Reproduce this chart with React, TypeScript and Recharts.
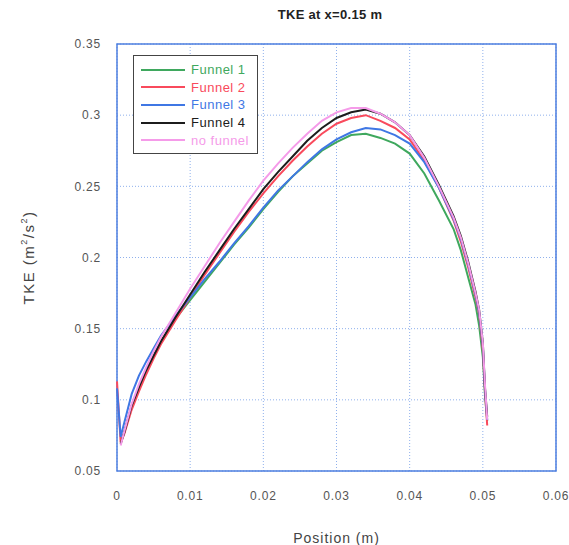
import React from 'react';
import { LineChart, Line, XAxis, YAxis, CartesianGrid, ReferenceArea, Legend } from 'recharts';

const positions = [0, 0.0005, 0.001, 0.002, 0.003, 0.004, 0.005, 0.006, 0.008, 0.01, 0.012, 0.014, 0.016, 0.018, 0.02, 0.022, 0.024, 0.026, 0.028, 0.03, 0.032, 0.034, 0.036, 0.038, 0.04, 0.042, 0.044, 0.046, 0.047, 0.048, 0.049, 0.0495, 0.05, 0.0503, 0.0506];

const funnel1 = [null, 0.070, 0.078, 0.095, 0.108, 0.120, 0.131, 0.141, 0.157, 0.170, 0.183, 0.196, 0.209, 0.221, 0.234, 0.246, 0.257, 0.266, 0.275, 0.281, 0.286, 0.287, 0.284, 0.280, 0.273, 0.259, 0.240, 0.220, 0.205, 0.186, 0.167, 0.152, 0.130, 0.103, 0.085];
const funnel2 = [0.113, 0.070, 0.076, 0.093, 0.106, 0.118, 0.129, 0.139, 0.156, 0.172, 0.188, 0.203, 0.218, 0.232, 0.245, 0.257, 0.268, 0.278, 0.287, 0.294, 0.298, 0.300, 0.296, 0.291, 0.283, 0.268, 0.249, 0.226, 0.211, 0.193, 0.172, 0.160, 0.135, 0.105, 0.082];
const funnel3 = [0.108, 0.074, 0.084, 0.104, 0.117, 0.127, 0.136, 0.145, 0.159, 0.172, 0.185, 0.197, 0.210, 0.222, 0.235, 0.247, 0.257, 0.267, 0.276, 0.283, 0.288, 0.291, 0.290, 0.286, 0.280, 0.267, 0.249, 0.227, 0.213, 0.195, 0.174, 0.161, 0.138, 0.107, 0.086];
const funnel4 = [null, 0.069, 0.077, 0.096, 0.109, 0.121, 0.131, 0.141, 0.158, 0.174, 0.190, 0.205, 0.220, 0.234, 0.248, 0.260, 0.271, 0.282, 0.291, 0.298, 0.302, 0.304, 0.301, 0.295, 0.286, 0.271, 0.251, 0.229, 0.215, 0.197, 0.176, 0.163, 0.140, 0.108, 0.088];
const noFunnel = [null, 0.068, 0.078, 0.097, 0.111, 0.123, 0.134, 0.144, 0.161, 0.178, 0.194, 0.210, 0.225, 0.240, 0.254, 0.266, 0.277, 0.287, 0.296, 0.302, 0.305, 0.305, 0.301, 0.295, 0.286, 0.270, 0.250, 0.228, 0.214, 0.196, 0.175, 0.163, 0.140, 0.110, 0.086];

const xTicks = [0, 0.01, 0.02, 0.03, 0.04, 0.05, 0.06];
const yTicks = [0.05, 0.1, 0.15, 0.2, 0.25, 0.3, 0.35];

const seriesNames = ['Funnel 1', 'Funnel 2', 'Funnel 3', 'Funnel 4', 'no funnel'];
const seriesKeys = ['f1', 'f2', 'f3', 'f4', 'nf'];
const seriesColors = ['#3fa85e', '#f94a5c', '#3f77e4', '#1c1c1c', '#f59be9'];
const seriesValues = [funnel1, funnel2, funnel3, funnel4, noFunnel];

const data = positions.map((x, i) => {
  const row: any = { x };
  seriesKeys.forEach((k, j) => {
    row[k] = seriesValues[j][i];
  });
  return row;
});

const fmt = (v: number) => String(+v.toFixed(2));
const FONT = '"Liberation Sans", Arial, sans-serif';

const LegendBox = () => (
  <div
    style={{
      border: '1.5px solid #444',
      background: '#fff',
      padding: '5px 6px 4px 7px',
      width: 110,
      fontFamily: FONT,
      fontSize: 13,
      letterSpacing: 0.5,
    }}
  >
    {seriesNames.map((n, i) => (
      <div key={n} style={{ display: 'flex', alignItems: 'center', height: 17.6 }}>
        <svg width={46} height={6} style={{ marginRight: 4 }}>
          <line x1={0} y1={3} x2={44} y2={3} stroke={seriesColors[i]} strokeWidth={2.2} />
        </svg>
        <span style={{ color: seriesColors[i] }}>{n}</span>
      </div>
    ))}
  </div>
);

const YLabel = (props: any) => {
  const vb = props.viewBox || {};
  const cy = vb.y + vb.height / 2;
  const cx = 30;
  return (
    <text
      x={cx}
      y={cy}
      transform={`rotate(-90, ${cx}, ${cy})`}
      textAnchor="middle"
      dominantBaseline="middle"
      fill="#444"
      fontSize={15}
      fontFamily={FONT}
      letterSpacing={1.5}
    >
      TKE (m
      <tspan dy={-5} fontSize={9}>2</tspan>
      <tspan dy={5}>/s</tspan>
      <tspan dy={-5} fontSize={9}>2</tspan>
      <tspan dy={5}>)</tspan>
    </text>
  );
};

export default function App() {
  return (
    <div style={{ position: 'absolute', left: 0, top: 0, width: 569, height: 545, background: '#fff' }}>
      <div
        style={{
          position: 'absolute',
          left: 230,
          width: 200,
          top: 7,
          textAlign: 'center',
          fontFamily: FONT,
          fontWeight: 'bold',
          fontSize: 13,
          color: '#222',
          letterSpacing: 0.3,
        }}
      >
        TKE at x=0.15 m
      </div>
      <LineChart
        width={569}
        height={545}
        data={data}
        margin={{ top: 44, right: 13, bottom: 0, left: 0 }}
      >
        <CartesianGrid stroke="#8fb0ec" strokeDasharray="1 2" strokeWidth={1} />
        <XAxis
          dataKey="x"
          type="number"
          domain={[0, 0.06]}
          ticks={xTicks}
          tickFormatter={fmt}
          tickLine={false}
          axisLine={false}
          tickMargin={14}
          height={74}
          tick={{ fill: '#555', fontSize: 12, fontFamily: FONT, letterSpacing: 0.8 }}
          label={{
            value: 'Position (m)',
            position: 'insideBottom',
            offset: 2,
            fill: '#444',
            fontSize: 14,
            fontFamily: FONT,
            letterSpacing: 1,
          }}
        />
        <YAxis
          type="number"
          domain={[0.05, 0.35]}
          ticks={yTicks}
          tickFormatter={fmt}
          tickLine={false}
          axisLine={false}
          tickMargin={10}
          width={117}
          tick={{ fill: '#555', fontSize: 12, fontFamily: FONT, letterSpacing: 0.8 }}
          label={<YLabel />}
        />
        <ReferenceArea x1={0} x2={0.06} y1={0.05} y2={0.35} fill="none" stroke="#4d7fe0" strokeWidth={1.5} ifOverflow="visible" />
        {seriesKeys.map((k, i) => (
          <Line
            key={k}
            dataKey={k}
            name={seriesNames[i]}
            stroke={seriesColors[i]}
            strokeWidth={2}
            dot={false}
            type="linear"
            isAnimationActive={false}
          />
        ))}
        <Legend
          content={<LegendBox />}
          layout="vertical"
          verticalAlign="middle"
          align="center"
          wrapperStyle={{ position: 'absolute', left: 133, top: 55, width: 'auto', height: 'auto' }}
        />
      </LineChart>
    </div>
  );
}
